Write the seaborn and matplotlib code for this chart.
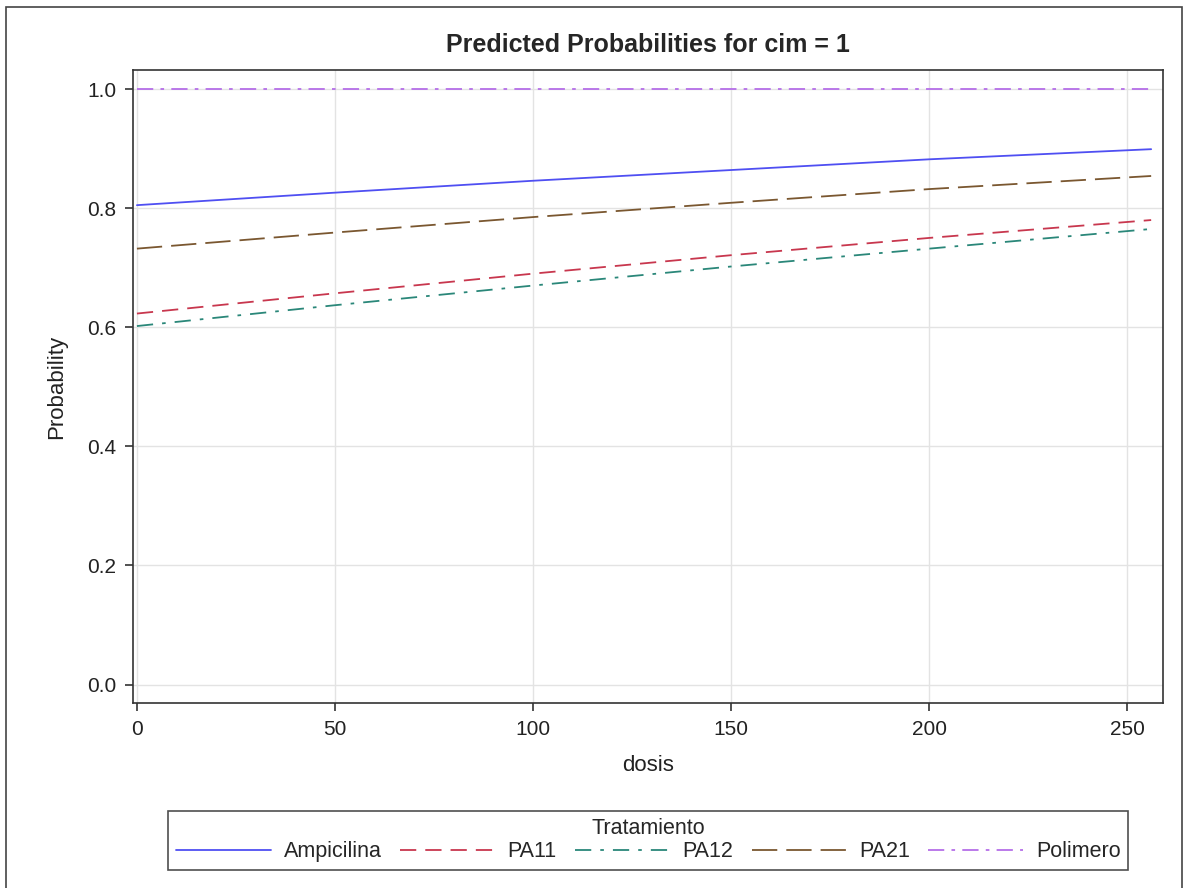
import numpy as np
import pandas as pd
import matplotlib
matplotlib.use("Agg")
import matplotlib.pyplot as plt
import seaborn as sns
from matplotlib.patches import Rectangle

# Values
dosis = [0, 50, 100, 150, 200, 256]
ampicilina = [0.805, 0.826, 0.846, 0.864, 0.882, 0.899]
pa11 = [0.623, 0.657, 0.690, 0.721, 0.750, 0.780]
pa12 = [0.602, 0.637, 0.670, 0.702, 0.732, 0.765]
pa21 = [0.732, 0.759, 0.785, 0.809, 0.832, 0.854]
polimero = [1.0, 1.0, 1.0, 1.0, 1.0, 1.0]

grupos = ["Ampicilina", "PA11", "PA12", "PA21", "Polimero"]
series = [ampicilina, pa11, pa12, pa21, polimero]

df = pd.DataFrame({
    "dosis": dosis * len(grupos),
    "Probability": [v for s in series for v in s],
    "Tratamiento": [g for g in grupos for _ in dosis],
})

colores = {"Ampicilina": "#4f4ff2", "PA11": "#c8374e", "PA12": "#2a8779",
           "PA21": "#7a5730", "Polimero": "#b56ee8"}
estilos = {"Ampicilina": "", "PA11": (9, 5), "PA12": (9, 5, 2, 5),
           "PA21": (14, 5), "Polimero": (9, 4, 2, 4)}

sns.set_style("white")
plt.rcParams["font.family"] = ["Liberation Sans", "DejaVu Sans"]

fig = plt.figure(figsize=(11.84, 8.88), dpi=100)
ax = fig.add_axes([0.1123, 0.2083, 0.8700, 0.7129])

sns.lineplot(data=df, x="dosis", y="Probability", hue="Tratamiento",
             style="Tratamiento", palette=colores, dashes=estilos,
             linewidth=1.3, ax=ax, legend=False)

ax.set_xlim(-1, 259)
ax.set_ylim(-0.031, 1.032)
ax.set_xticks([0, 50, 100, 150, 200, 250])
ax.set_yticks([0.0, 0.2, 0.4, 0.6, 0.8, 1.0])
ax.set_yticklabels(["0.0", "0.2", "0.4", "0.6", "0.8", "1.0"])
ax.grid(True, color="#e3e3e3", linewidth=1)
ax.set_axisbelow(True)
for sp in ax.spines.values():
    sp.set_color("#333333")
    sp.set_linewidth(1.2)
ax.tick_params(axis="both", direction="out", length=6, width=1.2,
               color="#333333", labelsize=15, labelcolor="#222222", pad=6,
               left=True, bottom=True)
ax.set_xlabel("dosis", fontsize=16, color="#222222", labelpad=12)
ax.set_ylabel("Probability", fontsize=16, color="#222222", labelpad=14)
ax.set_title("Predicted Probabilities for cim = 1", fontsize=18,
             fontweight="bold", pad=13)

handles = [plt.Line2D([0], [0], color=colores[g], linewidth=1.3,
                      dashes=estilos[g] if estilos[g] else (None, None))
           for g in grupos]
leg = fig.legend(handles, grupos, title="Tratamiento", ncol=5,
                 loc="upper center", bbox_to_anchor=(0.5475, 0.087),
                 frameon=True, fancybox=False, fontsize=15.5,
                 title_fontsize=15.5, handlelength=4.4, columnspacing=0.85,
                 handletextpad=0.6, borderpad=0.35, labelspacing=0.1,
                 borderaxespad=0)
leg.get_frame().set_edgecolor("#222222")
leg.get_frame().set_linewidth(1.2)

fig.add_artist(Rectangle((6 / 1184, -0.05), 1176 / 1184, 1.05 - 7 / 888,
                         transform=fig.transFigure, fill=False,
                         edgecolor="#444444", linewidth=1.2))

fig.savefig("out.png", dpi=100)
